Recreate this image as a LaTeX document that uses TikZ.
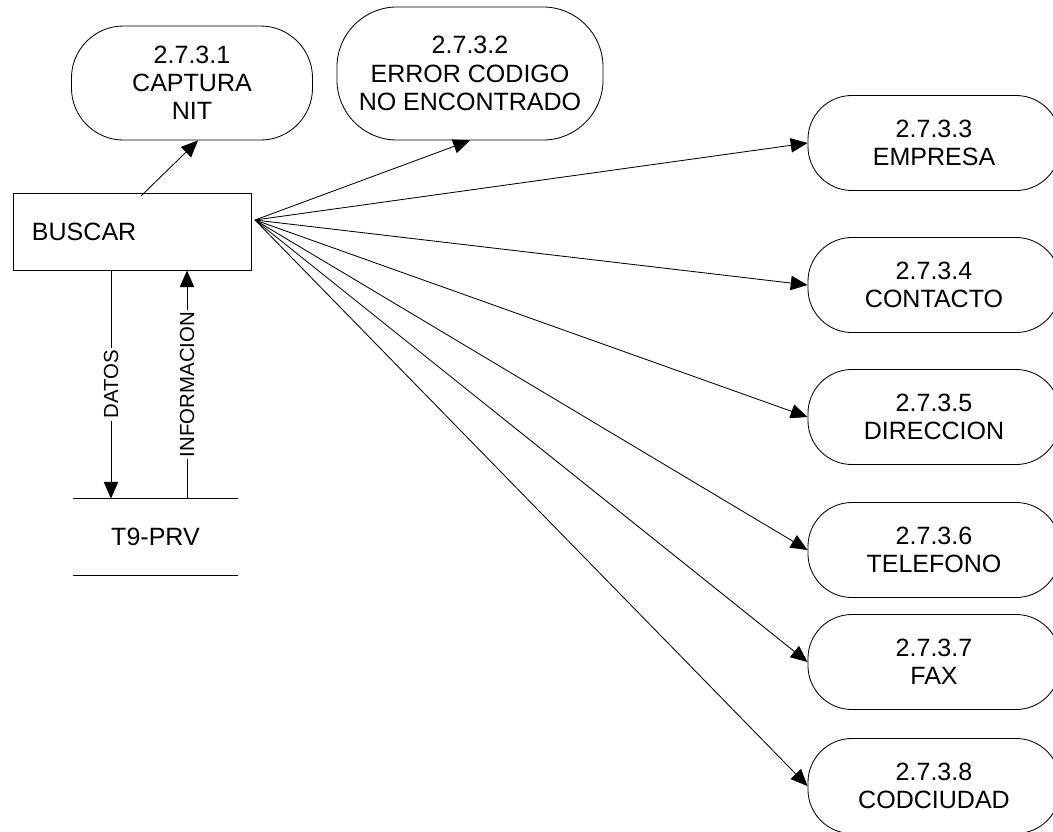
\documentclass[tikz,border=0pt]{standalone}
\usepackage{fontspec}
\setmainfont{Liberation Sans}
\usetikzlibrary{arrows.meta}

\begin{document}
\begin{tikzpicture}[x=0.025cm, y=-0.025cm, line width=0.6pt,
  every node/.style={font=\fontsize{17.8}{20}\selectfont},
  proc/.style={draw, rounded corners=1.1cm, align=center, inner sep=0pt},
  flow/.style={-{Triangle[length=0.42cm, width=0.36cm]}},
  lbl/.style={fill=white, rotate=90, inner sep=1.5pt, font=\fontsize{14.5}{16}\selectfont}]
  % page frame
  \path[use as bounding box] (0,0) rectangle (1053,831);
  \clip (0,0) rectangle (1053,831);

  % search process
  \node[draw, minimum width=5.95cm, minimum height=1.925cm, text width=5.0cm,
        align=left, inner xsep=0.475cm] (buscar) at (132,231.5) {BUSCAR};

  % data store
  \node[minimum width=4.125cm, minimum height=1.9cm] (store) at (155.5,537) {T9-PRV};
  \draw (store.north west) -- (store.north east);
  \draw (store.south west) -- (store.south east);

  % sub processes
  \node[proc, rounded corners=1.3cm, minimum width=6.025cm, minimum height=2.85cm] (nit) at (192,83)
    {2.7.3.1\\CAPTURA\\NIT};
  \node[proc, rounded corners=1.5cm, minimum width=6.65cm, minimum height=3.325cm] (err) at (470,73.5)
    {2.7.3.2\\ERROR CODIGO\\NO ENCONTRADO};

  \node[proc, minimum width=6.3cm, minimum height=2.375cm] (empresa) at (934,143) {2.7.3.3\\EMPRESA};
  \node[proc, minimum width=6.3cm, minimum height=2.375cm] (contacto) at (934,285) {2.7.3.4\\CONTACTO};
  \node[proc, minimum width=6.3cm, minimum height=2.375cm] (direccion) at (934,417) {2.7.3.5\\DIRECCION};
  \node[proc, minimum width=6.3cm, minimum height=2.375cm] (telefono) at (934,550) {2.7.3.6\\TELEFONO};
  \node[proc, minimum width=6.3cm, minimum height=2.375cm] (fax) at (934,662) {2.7.3.7\\FAX};
  \node[proc, minimum width=6.3cm, minimum height=2.375cm] (codciudad) at (934,786) {2.7.3.8\\CODCIUDAD};

  % anchor points
  \coordinate (hub) at (255,220);
  \coordinate (nitout) at (141,196);
  \coordinate (datx) at (111,0);
  \coordinate (infx) at (187,0);

  % flows
  \draw[flow] (nitout) -- (nit.-84);
  \draw[flow] (hub) -- (err.south);
  \draw[flow] (hub) -- (empresa.west);
  \draw[flow] (hub) -- (contacto.west);
  \draw[flow] (hub) -- (direccion.west);
  \draw[flow] (hub) -- (telefono.west);
  \draw[flow] (hub) -- (fax.west);
  \draw[flow] (hub) -- (codciudad.west);

  % store access
  \draw[flow] (buscar.south -| datx) -- node[lbl] {DATOS} (store.north -| datx);
  \draw[flow] (store.north -| infx) -- node[lbl] {INFORMACION} (buscar.south -| infx);
\end{tikzpicture}
\end{document}
